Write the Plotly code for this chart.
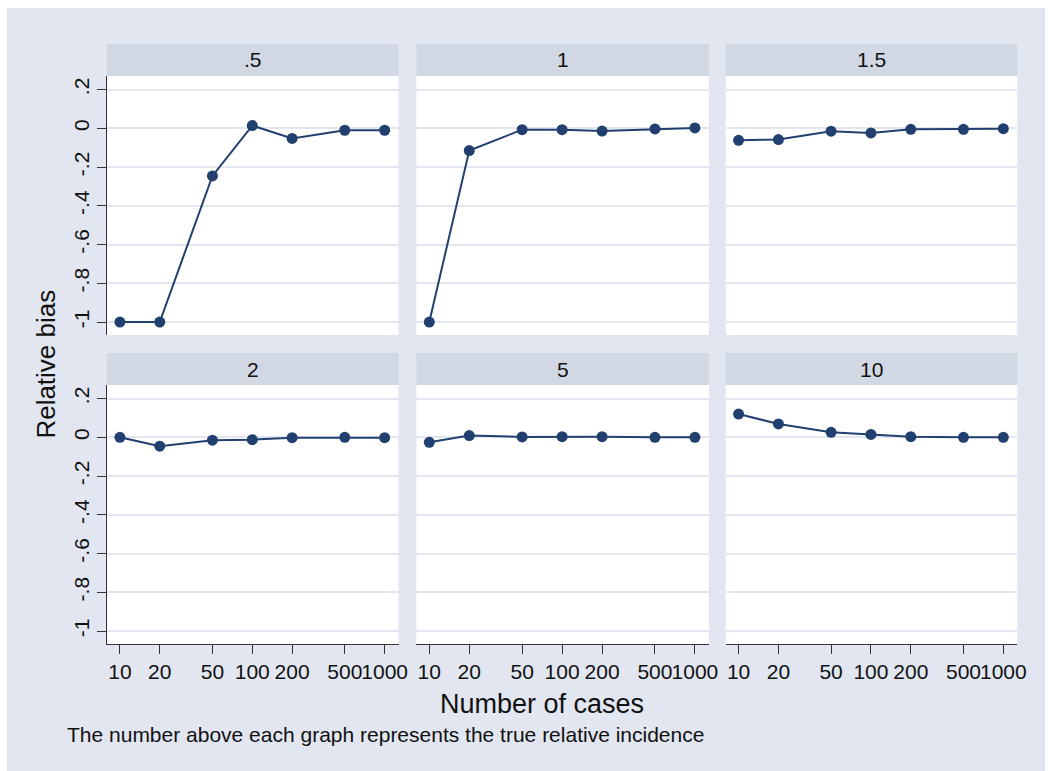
import plotly.graph_objects as go
import math

# ---- data ----
cases = [10, 20, 50, 100, 200, 500, 1000]
panel_labels = [".5", "1", "1.5", "2", "5", "10"]
bias_05 = [-1.0, -1.0, -0.246, 0.014, -0.052, -0.010, -0.010]
bias_1 = [-1.0, -0.115, -0.007, -0.007, -0.014, -0.003, 0.002]
bias_15 = [-0.062, -0.058, -0.015, -0.024, -0.005, -0.005, -0.002]
bias_2 = [0.0, -0.046, -0.015, -0.012, -0.002, 0.0, -0.002]
bias_5 = [-0.026, 0.009, 0.002, 0.003, 0.003, 0.0, 0.0]
bias_10 = [0.120, 0.069, 0.026, 0.015, 0.003, 0.0, 0.0]
series = [bias_05, bias_1, bias_15, bias_2, bias_5, bias_10]
y_ticks = [-1, -0.8, -0.6, -0.4, -0.2, 0, 0.2]
y_ticktext = ["-1", "-.8", "-.6", "-.4", "-.2", "0", ".2"]
x_ticktext = ["10", "20", "50", "100", "200", "500", "1000"]

W, H = 1054, 771
BG = "#E1E6F0"
STRIP = "#D1D8E4"
GRID = "#E1E6F0"
NAVY = "#22406F"
FONT = "Liberation Sans, Arial, sans-serif"

col_px = [(108, 402), (420, 715), (732, 1026)]
row_plot = [(76, 335), (385, 644)]
row_strip = [(44, 76), (353, 385)]

def fx(px):
    return px / W

def fy(py):
    return 1 - py / H

fig = go.Figure()
shapes = []
annotations = []

shapes.append(dict(type="rect", xref="paper", yref="paper",
                   x0=fx(7), x1=1, y0=0, y1=fy(8),
                   fillcolor=BG, line=dict(width=0), layer="below"))

for i in range(6):
    r, c = divmod(i, 3)
    idx = i + 1
    xa = "xaxis" if idx == 1 else f"xaxis{idx}"
    ya = "yaxis" if idx == 1 else f"yaxis{idx}"
    xr = "x" if idx == 1 else f"x{idx}"
    yr = "y" if idx == 1 else f"y{idx}"
    x0, x1 = col_px[c]
    y0, y1 = row_plot[r]
    s0, s1 = row_strip[r]

    fig.add_trace(go.Scatter(
        x=cases, y=series[i], mode="lines+markers",
        line=dict(color=NAVY, width=2),
        marker=dict(color=NAVY, size=11),
        xaxis=xr, yaxis=yr, showlegend=False, cliponaxis=False))

    bottom = (r == 1)
    left = (c == 0)
    fig.layout[xa] = dict(
        domain=[fx(x0), fx(x1)], anchor=yr, type="log",
        range=[math.log10(8.0), math.log10(1274)],
        tickvals=cases, ticktext=x_ticktext, tickangle=0,
        showticklabels=bottom, ticks="outside" if bottom else "",
        ticklen=9, tickwidth=1, tickcolor="#333333",
        showline=bottom, linecolor="#333333", linewidth=1,
        showgrid=False, zeroline=False,
        tickfont=dict(family=FONT, size=21, color="#111111"),
    )
    fig.layout[ya] = dict(
        domain=[fy(y1), fy(y0)], anchor=xr,
        range=[-1.067, 0.27],
        tickvals=y_ticks, ticktext=y_ticktext, tickangle=-90,
        showticklabels=left, ticks="outside" if left else "",
        ticklen=9, tickwidth=1, tickcolor="#333333",
        showline=left, linecolor="#333333", linewidth=1,
        showgrid=True, gridcolor=GRID, gridwidth=2, zeroline=False,
        tickfont=dict(family=FONT, size=21, color="#111111"),
    )
    shapes.append(dict(type="rect", xref="paper", yref="paper",
                       x0=fx(x0), x1=fx(x1), y0=fy(y1), y1=fy(y0),
                       fillcolor="white", line=dict(width=0), layer="below"))
    shapes.append(dict(type="rect", xref="paper", yref="paper",
                       x0=fx(x0), x1=fx(x1), y0=fy(s1), y1=fy(s0),
                       fillcolor=STRIP, line=dict(width=0), layer="below"))
    annotations.append(dict(text=panel_labels[i], xref="paper", yref="paper",
                            x=fx((x0 + x1) / 2), y=fy((s0 + s1) / 2),
                            xanchor="center", yanchor="middle", showarrow=False,
                            font=dict(family=FONT, size=21, color="#111111")))

annotations.append(dict(text="Relative bias", xref="paper", yref="paper",
                        x=fx(46), y=fy(364), textangle=-90,
                        xanchor="center", yanchor="middle", showarrow=False,
                        font=dict(family=FONT, size=26, color="#111111")))
annotations.append(dict(text="Number of cases", xref="paper", yref="paper",
                        x=fx(547), y=fy(704),
                        xanchor="center", yanchor="middle", showarrow=False,
                        font=dict(family=FONT, size=27, color="#111111")))
annotations.append(dict(text="The number above each graph represents the true relative incidence",
                        xref="paper", yref="paper",
                        x=fx(66), y=fy(734),
                        xanchor="left", yanchor="middle", showarrow=False,
                        font=dict(family=FONT, size=21, color="#111111")))

fig.update_layout(
    width=W, height=H, margin=dict(l=0, r=0, t=0, b=0),
    paper_bgcolor="white", plot_bgcolor="rgba(0,0,0,0)",
    shapes=shapes, annotations=annotations,
)

fig.write_html("out.html")
